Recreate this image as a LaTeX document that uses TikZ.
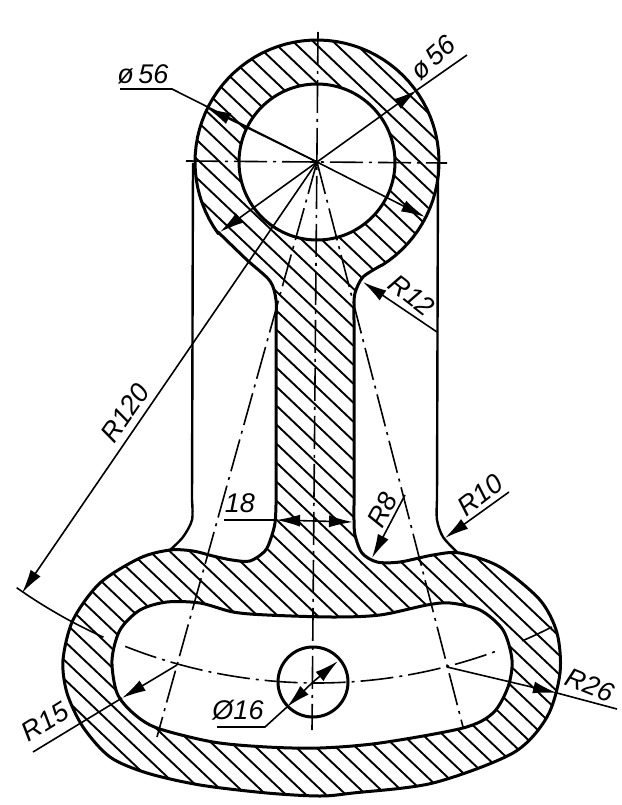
\documentclass[tikz,border=0pt]{standalone}
\usepackage{fontspec}
\setmainfont{Liberation Sans}
\usetikzlibrary{arrows.meta}
\tikzset{
    outline/.style={line width=3pt,line join=round},
    hatchline/.style={line width=1.9pt},
    dimline/.style={line width=1.6pt},
    dimarrow/.style={line width=1.6pt,-{Latex[length=24pt,width=12pt]}},
    centerline/.style={line width=1.6pt,dash pattern=on 33pt off 6pt on 3pt off 6pt},
    dimtext/.style={font=\itshape\fontsize{27}{27}\selectfont,inner sep=0pt}
}
\newcommand{\bodyoutline}{
    plot[domain=58:-216,samples=70] ({317+122*cos(\x)},{162+122*sin(\x)})
    -- plot[smooth] coordinates {(218,232) (247,260) (270,281) (276,300) (276,320)}
    -- (276,505)
    -- plot[smooth] coordinates {(276,505) (275,523) (271,538) (265,551) (250,561) (232,560) (213,556)
        (193,551) (170,550) (140,558) (100,583) (73,620) (63,660) (67,693) (83,727) (110,757) (147,773)
        (200,785) (267,793) (320,796) (353,793) (433,783) (513,753) (547,717) (560,673) (557,633)
        (540,600) (500,567) (460,553) (433,555) (400,562) (377,562) (362,553) (355,535) (354,520) (354,505)}
    -- (354,320)
    -- plot[smooth] coordinates {(354,320) (354,307) (355,293) (363,277) (382,265)} -- cycle
}
\newcommand{\cavityoutline}{
    plot[smooth cycle] coordinates {(267,615) (233,612) (200,603) (167,602) (140,610) (120,630)
        (112,660) (117,693) (133,713) (157,728) (213,742) (267,747) (320,748) (380,743) (463,728)
        (493,713) (508,687) (512,660) (503,630) (480,610) (450,603) (427,605) (380,615) (333,617)}
}
\begin{document}
\begin{tikzpicture}[x=1pt,y=-1pt]
    \useasboundingbox (0,0) rectangle (621,805);
    \coordinate (ringcenter) at (317,162);
    \coordinate (holecenter) at (313,682);

    % Hatching of the section
    \begin{scope}[even odd rule]
        \clip \bodyoutline (ringcenter) circle (78) \cavityoutline;
        \foreach \c in {-294,-275,...,800} {
            \draw[hatchline] (0,\c) -- (621,\c+590);
        }
    \end{scope}

    % Outlines
    \draw[outline] \bodyoutline;
    \draw[outline] \cavityoutline;
    \draw[outline] (ringcenter) circle (78);
    \draw[outline] (holecenter) circle (35);
    \draw[outline,line width=2.4pt] (193,163) -- (192,500) -- plot[smooth] coordinates {(192,500) (192,520) (183,537) (170,550)};
    \draw[outline,line width=2.4pt] (438,163) -- (437,500) -- plot[smooth] coordinates {(437,500) (437,520) (443,537) (457,552)};

    % Center lines
    \coordinate (axistop) at (318,32);
    \coordinate (axisbottom) at (312,730);
    \coordinate (axisleft) at (186,161);
    \coordinate (axisright) at (447,163);
    \coordinate (rayleft) at (157,737);
    \coordinate (rayright) at (463,727);
    \draw[centerline] (axistop) -- (axisbottom);
    \draw[centerline] (axisleft) -- (axisright);
    \draw[centerline] (ringcenter) -- (rayleft);
    \draw[centerline] (ringcenter) -- (rayright);
    \draw[centerline,shift={(ringcenter)}] plot[domain=111.6:69.4,samples=40,smooth] (\x:521);
    \draw[dimline,shift={(ringcenter)}] plot[domain=125.2:114.2,samples=12,smooth] (\x:521);
    \draw[dimline,shift={(ringcenter)}] plot[domain=66.8:63.2,samples=6,smooth] (\x:521);

    % Diameters of the ring
    \coordinate (phiknee) at (172,89);
    \coordinate (phistart) at (120,89);
    \coordinate (phitip) at (207,108);
    \draw[dimline] (phistart) -- (phiknee) -- (ringcenter);
    \draw[dimarrow] (ringcenter) -- (phitip);
    \coordinate (lowertip) at (425,217);
    \draw[dimarrow] (ringcenter) -- (lowertip);
    \coordinate (diamend) at (467,55);
    \coordinate (diamtip) at (417,90);
    \coordinate (diamtiptwo) at (220,232);
    \draw[dimline] (diamend) -- (diamtip);
    \draw[dimarrow] (ringcenter) -- (diamtip);
    \draw[dimarrow] (ringcenter) -- (diamtiptwo);
    \node[dimtext] (phileft) at (143,74) {ø\,56};
    \node[dimtext,rotate=42] (phiright) at (433,58) {ø\,56};

    % Radii
    \coordinate (bigtip) at (22,593);
    \draw[dimarrow] (ringcenter) -- (bigtip);
    \node[dimtext,rotate=55.5] (bigradius) at (125,413) {R120};

    \coordinate (rtwelvestart) at (437,332);
    \coordinate (rtwelvetip) at (363,282);
    \draw[dimarrow] (rtwelvestart) -- (rtwelvetip);
    \node[dimtext,rotate=-38] (rtwelve) at (412,295) {R12};

    \coordinate (rtenstart) at (509,492);
    \coordinate (rtentip) at (445,538);
    \draw[dimarrow] (rtenstart) -- (rtentip);
    \node[dimtext,rotate=38] (rten) at (480,495) {R10};

    \coordinate (reightstart) at (405,495);
    \coordinate (reighttip) at (372,558);
    \draw[dimarrow] (reightstart) -- (reighttip);
    \node[dimtext,rotate=62] (reight) at (382,510) {R8};

    \coordinate (rsixcenter) at (447,667);
    \coordinate (rsixtip) at (557,693);
    \coordinate (rsixend) at (617,709);
    \draw[dimarrow] (rsixcenter) -- (rsixtip);
    \draw[dimline] (rsixtip) -- (rsixend);
    \node[dimtext,rotate=-22] (rsix) at (590,685) {R26};

    \coordinate (rfivecenter) at (177,665);
    \coordinate (rfivetip) at (122,698);
    \coordinate (rfiveend) at (33,752);
    \draw[dimarrow] (rfivecenter) -- (rfivetip);
    \draw[dimline] (rfivetip) -- (rfiveend);
    \node[dimtext,rotate=32] (rfive) at (45,722) {R15};

    % Width of the neck
    \coordinate (neckstart) at (224,520);
    \coordinate (neckleft) at (276,520);
    \coordinate (neckmid) at (315,521);
    \coordinate (neckright) at (353,522);
    \draw[dimline] (neckstart) -- (neckleft);
    \draw[dimarrow] (neckmid) -- (neckleft);
    \draw[dimarrow] (neckmid) -- (neckright);
    \node[dimtext] (neckwidth) at (240,503) {18};

    % Small hole
    \coordinate (holestart) at (217,727);
    \coordinate (holeknee) at (265,727);
    \coordinate (holetip) at (287,707);
    \coordinate (holetiptwo) at (338,661);
    \draw[dimline] (holestart) -- (holeknee) -- (holetip);
    \draw[dimarrow] (holecenter) -- (holetip);
    \draw[dimarrow] (holecenter) -- (holetiptwo);
    \node[dimtext] (holelabel) at (238,710) {Ø16};
\end{tikzpicture}
\end{document}
